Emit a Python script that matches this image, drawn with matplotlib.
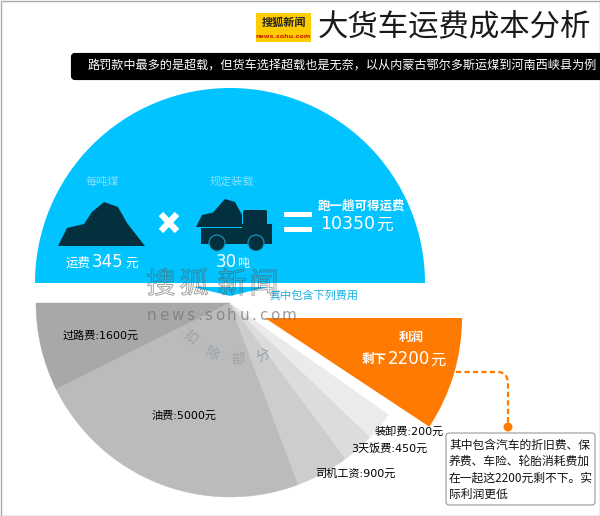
import matplotlib
matplotlib.use('Agg')
import matplotlib.pyplot as plt
import matplotlib.patheffects as pe
from matplotlib.patches import Wedge, Polygon, Rectangle, FancyBboxPatch, Circle
from matplotlib.path import Path
from matplotlib.patches import PathPatch

plt.rcParams['font.family'] = ['DejaVu Sans', 'Noto Sans CJK SC']

# costs from the chart, spans are the slice angles
cost_names = ['过路费', '油费', '司机工资', '3天饭费', '装卸费']
cost_values = [1600, 5000, 900, 450, 200]
cost_spans = [26.4, 84.2, 16.0, 9.7, 8.5]
cost_colors = ['#a8a8a8', '#bbbbbb', '#cdcdcd', '#dcdcdc', '#ebebeb']
cost_label_pos = [(100.5, 336), (184, 416), (355, 474), (389, 448), (409, 431)]
profit_value = 2200
profit_span = 33.5
rate_per_ton = 345
load_tons = 30
total_freight = 10350

title = '大货车运费成本分析'
subtitle = '路罚款中最多的是超载，但货车选择超载也是无奈，以从内蒙古鄂尔多斯运煤到河南西峡县为例'
note_lines = ['其中包含汽车的折旧费、保', '养费、车险、轮胎消耗费加',
              '在一起这2200元剩不下。实', '际利润更低']

BLUE = '#00c3ff'
DARK = '#02303f'
ORANGE = '#ff7a00'

fig = plt.figure(figsize=(6, 5.16), dpi=100)
ax = fig.add_axes([0, 0, 1, 1])
ax.set_xlim(0, 600)
ax.set_ylim(516, 0)
ax.axis('off')


def label(x, y, s, size, color='black', ha='center', **kw):
    return ax.text(x, y, s, fontsize=size, color=color, ha=ha, va='center', **kw)


# border
ax.add_patch(Rectangle((0.5, 0.5), 599, 515, fc='white', ec='#aaaaaa', lw=1))

# header
ax.add_patch(Rectangle((256, 13), 55, 29, fc='#ffcc00', ec='none'))
label(283.5, 23, '搜狐新闻', 8, '#222222', fontweight='bold')
label(283.5, 36, 'news.sohu.com', 4.6, '#cc2200', fontweight='bold')
label(318, 28, title, 21.9, '#1a1a1a', ha='left')
ax.add_patch(FancyBboxPatch((73, 55), 540, 23, boxstyle='round,pad=0,rounding_size=2', fc='black', ec='black', lw=3))
label(88, 66, subtitle, 8.75, 'white', ha='left')

# blue half
ax.add_patch(Wedge((230, 283), 195, 180, 360, fc=BLUE, ec='none'))
ax.add_patch(Polygon([(193, 287), (268, 287), (230, 296)], fc=BLUE, ec='none'))

# grey slices, going counter-clockwise from the left
angle = 180
for span, color in zip(cost_spans, cost_colors):
    ax.add_patch(Wedge((230, 303), 194, angle - span, angle, fc=color, ec=color, lw=0.3))
    angle -= span
for name, value, (x, y) in zip(cost_names, cost_values, cost_label_pos):
    label(x, y, f'{name}:{value}元', 8)

# profit slice pulled out
ax.add_patch(Wedge((265, 318), 197, 0, profit_span, fc=ORANGE, ec='none'))
label(411, 337, '利润', 9, 'white', fontweight='bold')
label(374, 360, '剩下', 9, 'white', fontweight='bold')
label(388, 359, str(profit_value), 12, 'white', ha='left')
label(430, 360, '元', 11, 'white', ha='left')

# coal heap
ax.add_patch(Polygon([(58, 246), (67, 228), (84, 224), (92, 212), (104, 202), (118, 207),
                      (127, 223), (145, 246)], fc=DARK, ec='none'))
label(102, 182, '每吨煤', 8, '#80e0ff')
label(78, 263, '运费', 9, 'white')
label(92, 262, str(rate_per_ton), 12, 'white', ha='left')
label(125, 264, '元', 9, 'white', ha='left')

# truck
ax.add_patch(Polygon([(196, 227), (202, 215), (213, 212.5), (225, 199), (235, 202), (242, 215),
                      (242, 227)], fc=DARK, ec='none'))
ax.add_patch(FancyBboxPatch((243, 210), 24, 24, boxstyle='round,pad=0,rounding_size=2', fc=DARK, ec='none'))
ax.add_patch(Polygon([(201, 228), (242, 228), (242, 224), (267, 224), (272, 224), (272, 244), (201, 244)],
                     fc=DARK, ec='none'))
ax.add_patch(Circle((217, 243), 8, fc=DARK, ec='#1a9cc4', lw=0.8))
ax.add_patch(Circle((256, 243), 8, fc=DARK, ec='#1a9cc4', lw=0.8))
label(232, 182, '规定装载', 8, '#80e0ff')
label(215.5, 262, str(load_tons), 12, 'white', ha='left')
label(237, 263, '吨', 8.6, 'white', ha='left')

# times and equals
ax.plot([161, 177], [214, 231], color='white', lw=4.5, solid_capstyle='butt')
ax.plot([177, 161], [214, 231], color='white', lw=4.5, solid_capstyle='butt')
ax.add_patch(Rectangle((284, 212), 28, 5, fc='white', ec='none'))
ax.add_patch(Rectangle((284, 227), 28, 5, fc='white', ec='none'))
label(361, 206, '跑一趟可得运费', 9, 'white', fontweight='bold')
label(320, 224, str(total_freight), 12.5, 'white', ha='left')
label(376, 225, '元', 12, 'white', ha='left')

label(314, 296, '其中包含下列费用', 8, '#16b0e6')

# note box and dashed leader
ax.add_patch(FancyBboxPatch((446, 433), 149, 72, boxstyle='round,pad=0,rounding_size=3', fc='white', ec='#999999', lw=0.8))
for i, line in enumerate(note_lines):
    label(449, 445 + i * 16.4, line, 8.5, '#111111', ha='left', family=['Noto Sans CJK SC', 'DejaVu Sans'])
leader = Path([(456, 372), (498, 372), (508, 372), (508, 384), (508, 427)],
              [Path.MOVETO, Path.LINETO, Path.CURVE3, Path.CURVE3, Path.LINETO])
ax.add_patch(PathPatch(leader, fc='none', ec=ORANGE, lw=1.6, ls=(0, (2.4, 1.4))))
ax.add_patch(Circle((508, 427), 4.5, fc=ORANGE, ec='none'))

# watermark
hollow = [pe.Stroke(linewidth=0.7, foreground=(0.35, 0.35, 0.35, 0.55))]
for x, ch in zip([161, 194, 232, 264], '搜狐新闻'):
    label(x, 285, ch, 21, (1, 1, 1, 0.0), path_effects=hollow)
# letter spaced, so each char goes after the width of the last one
renderer = fig.canvas.get_renderer()
x = 147
for ch in 'news.sohu.com':
    t = label(x, 316, ch, 11, (0.45, 0.45, 0.45, 0.7), ha='left')
    x += t.get_window_extent(renderer).width + 2.6
for (x, y, rot), ch in zip([(190, 338, -40), (212, 354, -22), (238, 360, 3), (263, 355, 28)], '扣除部分'):
    label(x, y, ch, 10, '#98a3aa', rotation=rot)

fig.savefig('out.png', dpi=100)
